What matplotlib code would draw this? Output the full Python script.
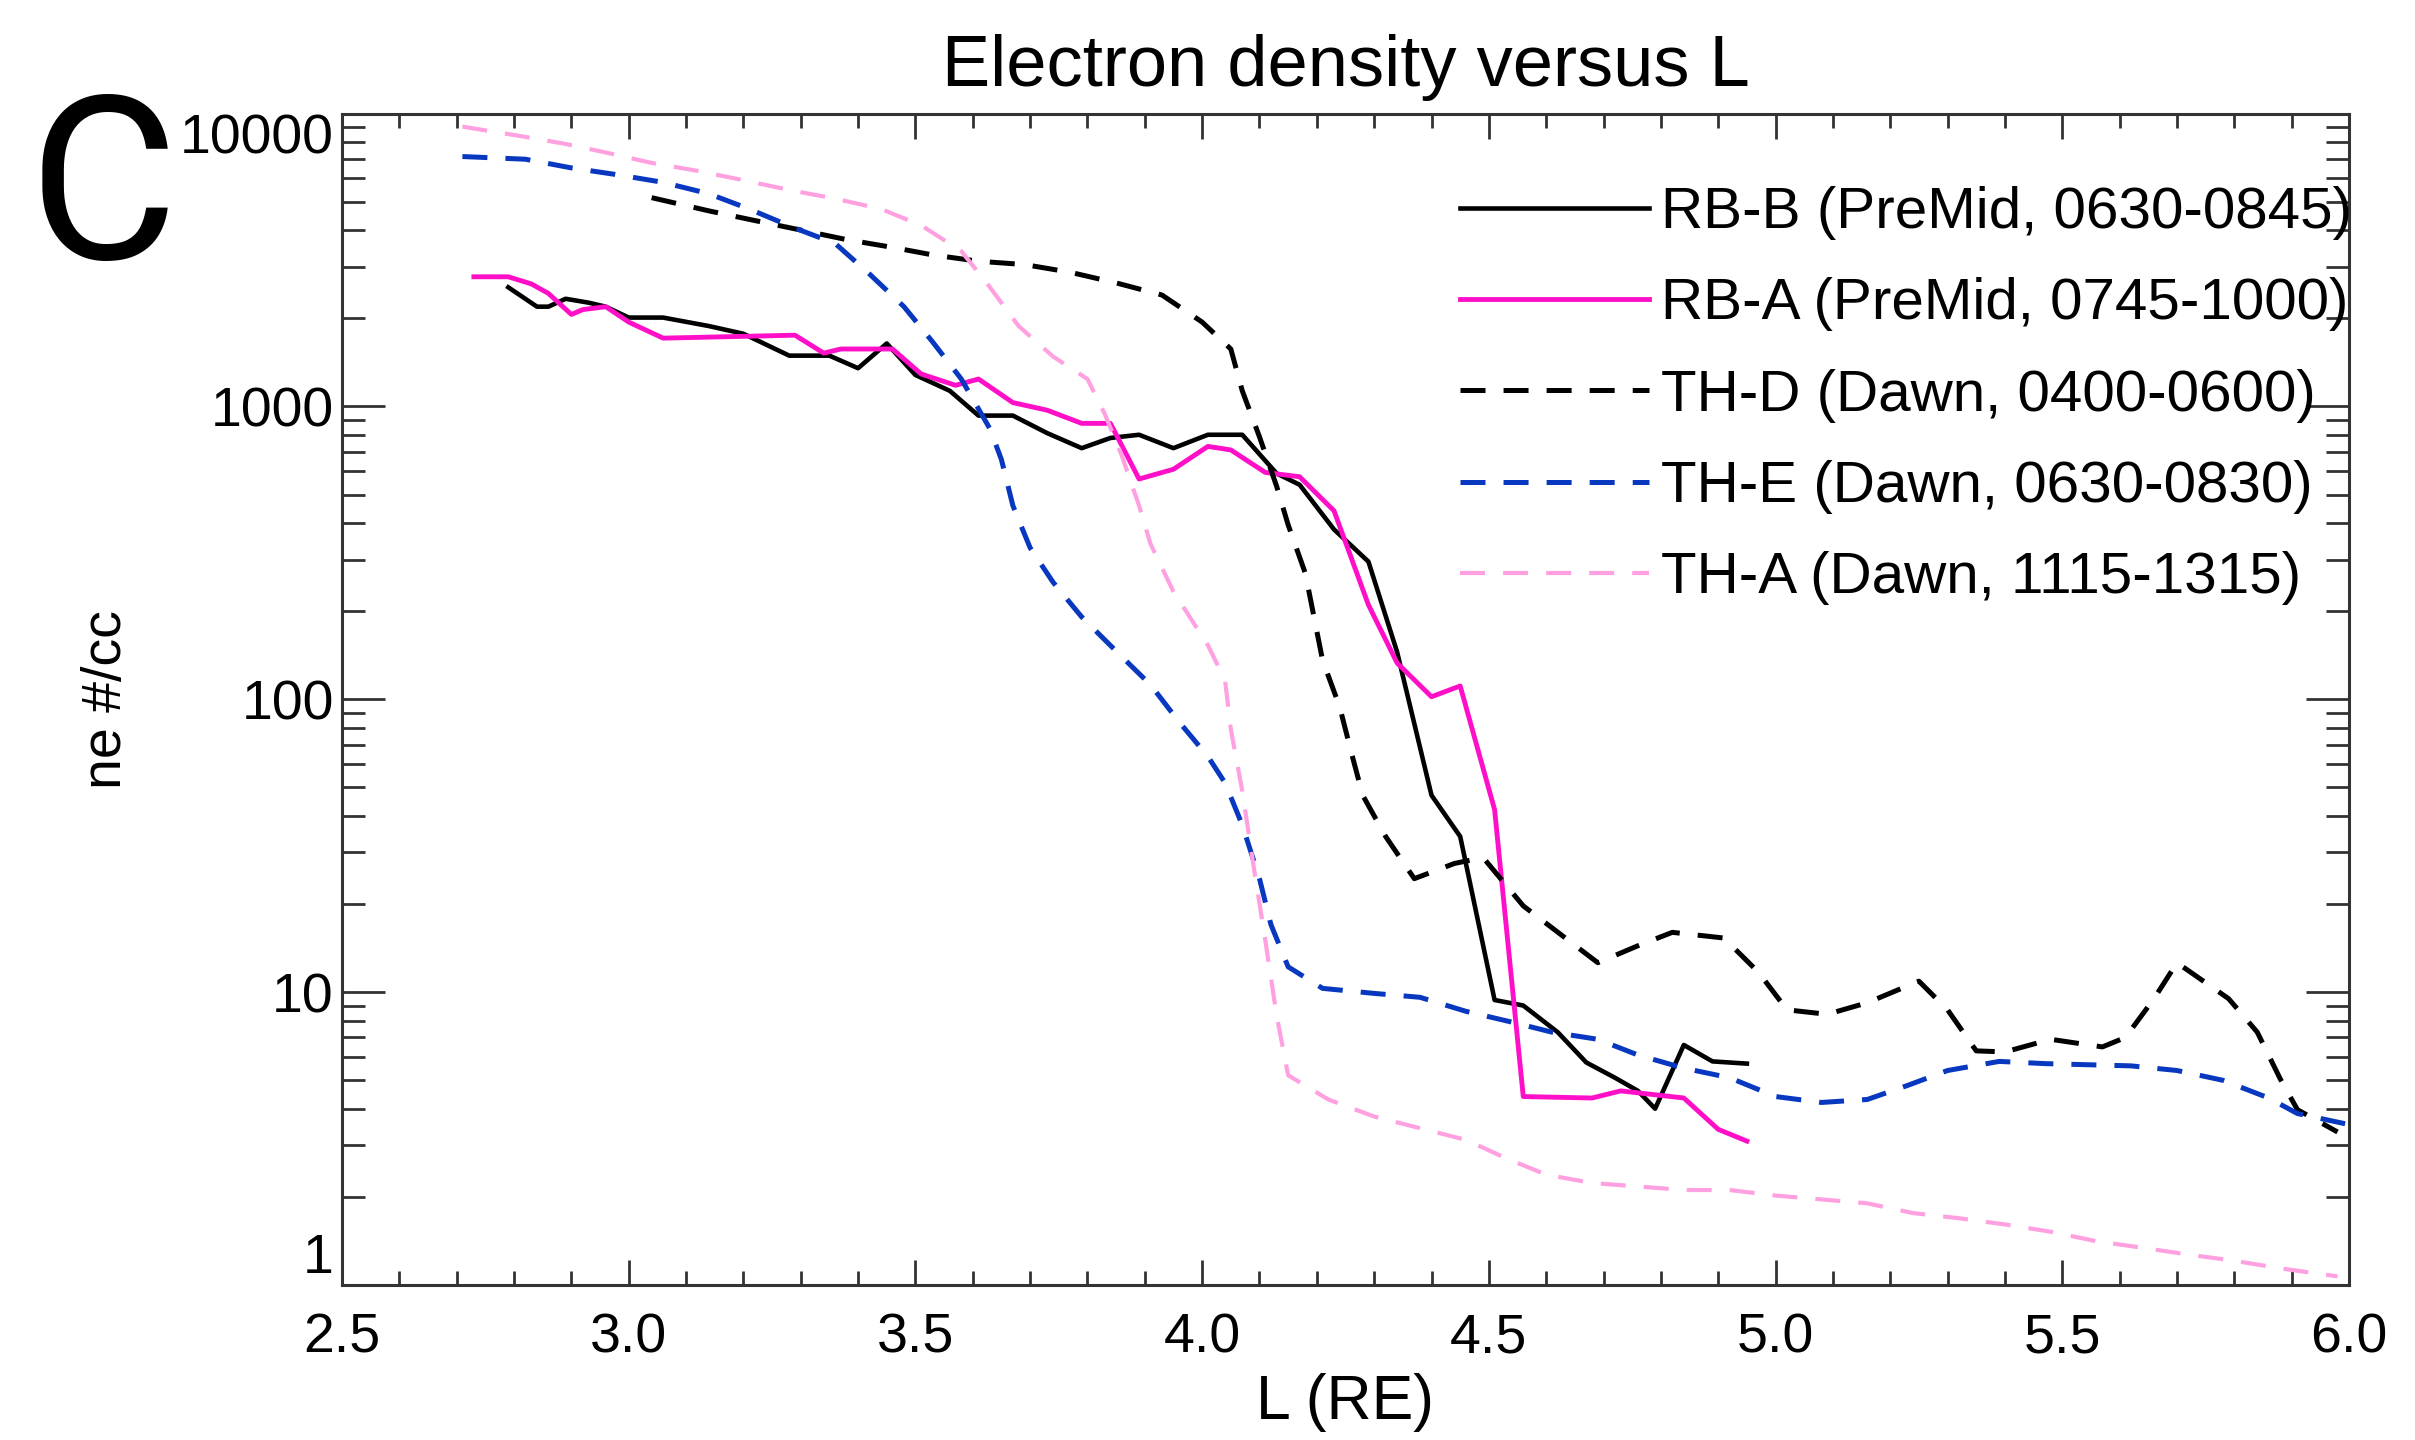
import numpy as np
import matplotlib
matplotlib.use("Agg")
import matplotlib.pyplot as plt
from matplotlib.ticker import LogLocator, MultipleLocator, NullFormatter, FixedLocator, FixedFormatter

plt.rcParams['font.family'] = ['Liberation Sans', 'DejaVu Sans']
plt.rcParams['lines.scale_dashes'] = False

# --- data (L in RE, ne in #/cc) ---
rbb_L = [2.79, 2.84, 2.86, 2.89, 2.93, 2.96, 3.00, 3.06, 3.14, 3.20, 3.28, 3.35, 3.40, 3.45,
         3.50, 3.56, 3.61, 3.67, 3.73, 3.79, 3.84, 3.89, 3.95, 4.01, 4.07, 4.13, 4.17, 4.23,
         4.29, 4.34, 4.40, 4.45, 4.46, 4.51, 4.56, 4.62, 4.67, 4.72, 4.76, 4.79, 4.84, 4.89, 4.95]
rbb_ne = [2550, 2190, 2190, 2330, 2260, 2190, 2010, 2010, 1880, 1770, 1490, 1490, 1350, 1640,
          1280, 1130, 930, 930, 810, 720, 780, 800, 720, 800, 800, 590, 540, 380,
          295, 145, 47, 34, 27.5, 9.4, 9.0, 7.3, 5.75, 5.1, 4.6, 4.0, 6.6, 5.8, 5.7]

rba_L = [2.73, 2.79, 2.83, 2.86, 2.90, 2.92, 2.96, 3.00, 3.06, 3.29, 3.34, 3.37, 3.46, 3.51,
         3.57, 3.61, 3.67, 3.73, 3.79, 3.84, 3.89, 3.95, 4.01, 4.05, 4.11, 4.17, 4.23, 4.29,
         4.34, 4.40, 4.45, 4.51, 4.56, 4.68, 4.73, 4.84, 4.90, 4.95]
rba_ne = [2770, 2770, 2620, 2430, 2060, 2140, 2190, 1940, 1710, 1750, 1520, 1570, 1570, 1290,
          1180, 1240, 1030, 970, 875, 875, 565, 610, 730, 710, 595, 575, 440, 210,
          133, 102, 111, 42, 4.4, 4.35, 4.6, 4.35, 3.4, 3.1]

thd_L = [3.04, 3.14, 3.22, 3.30, 3.38, 3.46, 3.53, 3.61, 3.69, 3.77, 3.85, 3.93, 4.00, 4.05,
         4.07, 4.10, 4.13, 4.15, 4.18, 4.21, 4.24, 4.26, 4.28, 4.32, 4.37, 4.44, 4.49, 4.56,
         4.69, 4.76, 4.82, 4.91, 4.97, 5.02, 5.09, 5.16, 5.25, 5.30, 5.35, 5.40, 5.48, 5.57,
         5.61, 5.66, 5.70, 5.79, 5.84, 5.88, 5.91, 5.98]
thd_ne = [5160, 4650, 4310, 4000, 3710, 3490, 3290, 3130, 3050, 2870, 2640, 2400, 1940, 1570,
          1130, 787, 533, 394, 269, 136, 94, 66, 47, 34, 24.4, 27.5, 28.8, 19.7,
          12.6, 14.4, 16.0, 15.3, 11.7, 8.7, 8.4, 9.2, 10.9, 8.7, 6.3, 6.25, 6.9, 6.5,
          7.0, 9.5, 12.6, 9.5, 7.3, 5.06, 3.97, 3.33]

the_L = [2.71, 2.82, 2.90, 2.98, 3.06, 3.14, 3.21, 3.29, 3.36, 3.42, 3.48, 3.53, 3.58, 3.63,
         3.65, 3.67, 3.70, 3.74, 3.79, 3.85, 3.91, 3.96, 4.01, 4.04, 4.07, 4.10, 4.12, 4.15,
         4.21, 4.30, 4.38, 4.46, 4.54, 4.61, 4.69, 4.76, 4.84, 4.92, 5.00, 5.08, 5.16, 5.23,
         5.30, 5.39, 5.47, 5.62, 5.70, 5.78, 5.86, 5.91, 6.00]
the_ne = [7130, 6980, 6520, 6180, 5820, 5320, 4720, 4060, 3600, 2830, 2190, 1660, 1240, 838,
          658, 458, 329, 251, 191, 146, 112, 83.6, 63.8, 51.8, 37.2, 24.4, 17.0, 12.2,
          10.3, 9.9, 9.6, 8.6, 7.9, 7.3, 6.9, 6.1, 5.5, 5.1, 4.4, 4.2, 4.3, 4.8,
          5.4, 5.8, 5.7, 5.6, 5.4, 5.0, 4.35, 3.85, 3.53]

tha_L = [2.71, 2.82, 2.89, 2.96, 3.04, 3.12, 3.20, 3.28, 3.36, 3.44, 3.51, 3.58, 3.63, 3.68,
         3.74, 3.80, 3.83, 3.86, 3.89, 3.91, 3.95, 4.01, 4.04, 4.05, 4.07, 4.09, 4.11, 4.13,
         4.15, 4.22, 4.30, 4.38, 4.46, 4.53, 4.60, 4.68, 4.76, 4.84, 4.92, 5.00, 5.08, 5.16,
         5.24, 5.32, 5.40, 5.48, 5.56, 5.64, 5.72, 5.80, 5.88, 5.98]
tha_ne = [9020, 8320, 7870, 7360, 6780, 6370, 5920, 5480, 5120, 4720, 4150, 3390, 2550, 1880,
          1480, 1240, 944, 678, 458, 339, 233, 153, 116, 79, 48.6, 26.7, 15.1, 8.3,
          5.2, 4.3, 3.76, 3.43, 3.13, 2.71, 2.38, 2.23, 2.17, 2.11, 2.11, 2.02, 1.96, 1.90,
          1.76, 1.69, 1.61, 1.52, 1.41, 1.34, 1.27, 1.21, 1.14, 1.07]

labels = ["RB-B (PreMid, 0630-0845)", "RB-A (PreMid, 0745-1000)", "TH-D (Dawn, 0400-0600)",
          "TH-E (Dawn, 0630-0830)", "TH-A (Dawn, 1115-1315)"]

yticks = [1, 10, 100, 1000, 10000]
ytick_labels = ["1", "10", "100", "1000", "10000"]
xticks = [2.5, 3.0, 3.5, 4.0, 4.5, 5.0, 5.5, 6.0]

# --- plot ---
fig = plt.figure(figsize=(24.15, 14.4), dpi=100)
ax = fig.add_axes([0.14161, 0.10764, 0.83106, 0.81354])

dash = (0, (18, 13))
ax.plot(rbb_L, rbb_ne, color='black', lw=3.3, label=labels[0])
ax.plot(rba_L, rba_ne, color='#ff10c8', lw=3.5, label=labels[1])
ax.plot(thd_L, thd_ne, color='black', lw=3.6, linestyle=dash, label=labels[2])
ax.plot(the_L, the_ne, color='#0838c0', lw=3.6, linestyle=dash, label=labels[3])
ax.plot(tha_L, tha_ne, color='#ffa0e0', lw=3.0, linestyle=dash, label=labels[4])

ax.set_yscale('log')
ax.set_xlim(2.5, 6.0)
ax.set_ylim(1, 10000)

ax.xaxis.set_major_locator(FixedLocator(xticks))
ax.xaxis.set_minor_locator(MultipleLocator(0.1))
ax.set_xticklabels([f"{v:.1f}" for v in xticks])
ax.yaxis.set_major_locator(FixedLocator(yticks))
ax.yaxis.set_major_formatter(FixedFormatter(ytick_labels))
ax.yaxis.set_minor_locator(LogLocator(base=10, subs=np.arange(2, 10)))
ax.yaxis.set_minor_formatter(NullFormatter())

spine_col = '#333333'
for s in ax.spines.values():
    s.set_linewidth(2.2)
    s.set_color(spine_col)

ax.tick_params(axis='both', which='both', direction='in', top=True, right=True,
               color=spine_col, width=2.0, labelsize=40)
ax.tick_params(axis='x', which='major', length=18, pad=20)
ax.tick_params(axis='x', which='minor', length=10)
ax.tick_params(axis='y', which='major', length=31, pad=6)
ax.tick_params(axis='y', which='minor', length=16.5)

ylab = ax.get_yticklabels()
ylab[0].set_va('bottom')
ylab[-1].set_va('top')

ax.set_title("Electron density versus L", fontsize=52, pad=20)
ax.set_xlabel("L (RE)", fontsize=45)
ax.xaxis.set_label_coords(0.5, -0.075)
ax.set_ylabel("ne #/cc", fontsize=40)
ax.yaxis.set_label_coords(-0.104, 0.5)

ax.legend(loc='upper left', bbox_to_anchor=(0.557, 0.938), frameon=False, fontsize=42,
          handlelength=3.24, handletextpad=0.2, labelspacing=0.64, borderpad=0,
          borderaxespad=0)

fig.text(0.012, 0.82, "C", fontsize=165, ha='left', va='baseline',
         family=['Liberation Sans Narrow', 'Roboto', 'Liberation Sans'])

fig.savefig("out.png", dpi=100)
